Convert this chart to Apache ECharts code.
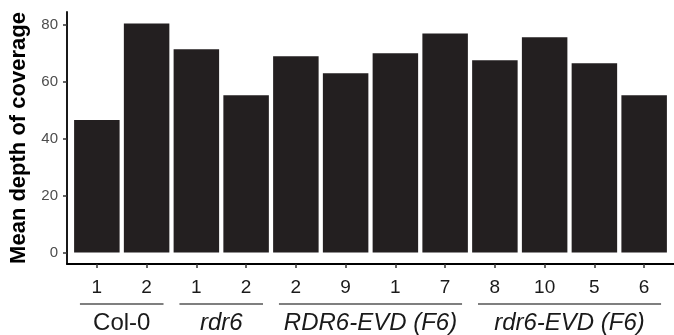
<!DOCTYPE html>
<html>
<head>
<meta charset="utf-8">
<script src="https://cdn.jsdelivr.net/npm/echarts@6/dist/echarts.min.js"></script>
<style>
  html, body { margin: 0; padding: 0; background: #fff; }
</style>
</head>
<body>
<div id="coverage" style="width: 674px; height: 335px"></div>
<script>
// sample labels under each bar
const sampleLabels = ['1', '2', '1', '2', '2', '9', '1', '7', '8', '10', '5', '6']
// mean depth of coverage per sample
const meanDepth = [46.5, 80.4, 71.3, 55.2, 68.9, 62.9, 69.9, 76.9, 67.5, 75.5, 66.4, 55.2]
// genotype groups
const groupNames = ['Col-0', 'rdr6', 'RDR6-EVD (F6)', 'rdr6-EVD (F6)']
const groupSizes = [2, 2, 4, 4]
const groupItalic = [false, true, true, true]
const yTicks = [0, 20, 40, 60, 80]

const positions = sampleLabels.map((s, i) => i + 1)
const font = 'Liberation Sans, Arial, sans-serif'

const chart = echarts.init(document.getElementById('coverage'))

const option = {
  animation: false,
  grid: {
    left: 67,
    top: 12,
    width: 613,
    height: 252
  },
  xAxis: {
    type: 'value',
    min: 0.4,
    max: 12.6,
    splitLine: { show: false },
    axisLine: {
      show: true,
      onZero: false,
      lineStyle: { color: '#000', width: 1.8 }
    },
    axisTick: {
      show: true,
      customValues: positions,
      length: 4,
      lineStyle: { color: '#333', width: 1.5 }
    },
    axisLabel: {
      customValues: positions,
      margin: 14,
      color: '#1a1a1a',
      fontSize: 19,
      fontFamily: font,
      formatter: v => sampleLabels[Math.round(v) - 1]
    }
  },
  yAxis: {
    type: 'value',
    min: -4,
    max: 84.4,
    name: 'Mean depth of coverage',
    nameLocation: 'middle',
    nameGap: 32,
    nameTextStyle: {
      fontSize: 22,
      fontWeight: 'bold',
      color: '#000',
      fontFamily: font
    },
    splitLine: { show: false },
    axisLine: {
      show: true,
      onZero: false,
      lineStyle: { color: '#000', width: 1.8 }
    },
    axisTick: {
      show: true,
      customValues: yTicks,
      length: 4,
      lineStyle: { color: '#333', width: 1.5 }
    },
    axisLabel: {
      customValues: yTicks,
      margin: 9,
      color: '#4d4d4d',
      fontSize: 15,
      fontFamily: font
    }
  },
  series: [
    {
      type: 'bar',
      barWidth: 45.5,
      itemStyle: { color: '#231f20' },
      data: meanDepth.map((v, i) => [positions[i], v])
    }
  ]
}

chart.setOption(option)

// group underlines and names, placed from the x axis scale
const graphics = []
let start = 1
groupNames.forEach((name, g) => {
  const end = start + groupSizes[g] - 1
  const x1 = chart.convertToPixel({ xAxisIndex: 0 }, start - 0.34)
  const x2 = chart.convertToPixel({ xAxisIndex: 0 }, end + 0.34)
  const xc = chart.convertToPixel({ xAxisIndex: 0 }, (start + end) / 2)
  graphics.push({
    type: 'line',
    shape: { x1: x1, y1: 304, x2: x2, y2: 304 },
    style: { stroke: '#555', lineWidth: 1.5 }
  })
  graphics.push({
    type: 'text',
    x: xc,
    y: 323,
    style: {
      text: name,
      fill: '#1a1a1a',
      font: (groupItalic[g] ? 'italic ' : '') + '24px ' + font,
      align: 'center',
      verticalAlign: 'middle'
    }
  })
  start = end + 1
})
chart.setOption({ graphic: graphics })

window.onresize = () => {
  chart.resize()
}
</script>
</body>
</html>
